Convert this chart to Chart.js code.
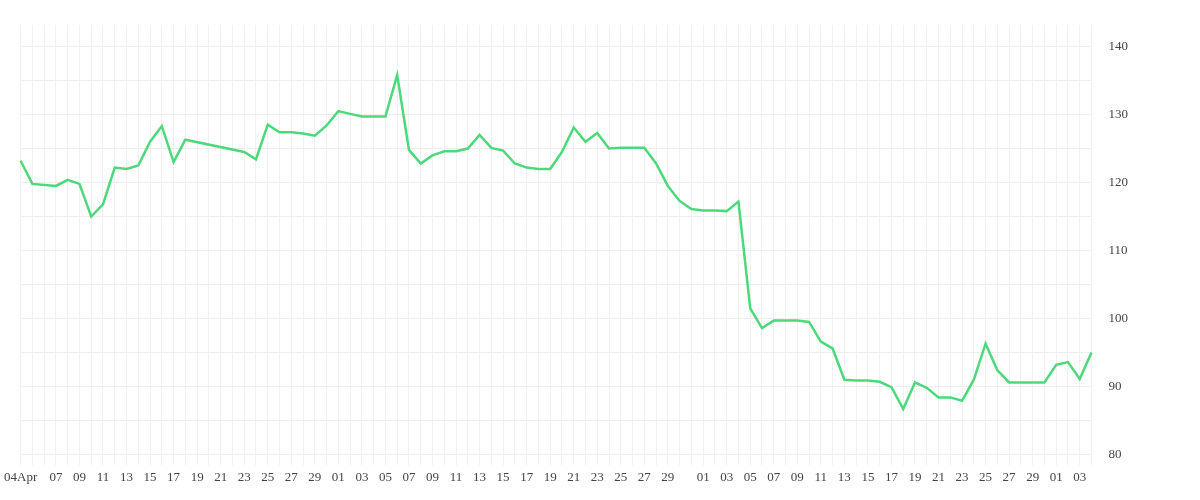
<!DOCTYPE html>
<html><head><meta charset="utf-8">
<script src="https://cdn.jsdelivr.net/npm/chart.js@4"></script>
<style>html,body{margin:0;padding:0;background:#fff}#w{width:1200px;height:500px}</style>
</head><body><div id="w"><canvas id="c"></canvas></div>
<script>
// Daily categories from 04 Apr to 04 Jul
const months = [["Apr",4,30],["May",1,31],["Jun",1,30],["Jul",1,4]];
const categories = [];
const dayNums = [];
for (const [m,s,e] of months) for (let d=s; d<=e; d++) { categories.push(d+" "+m); dayNums.push(d); }
const priceValues = [
123.2,119.8,null,119.5,120.4,119.8,115,116.8,122.2,122,122.5,126,128.3,123,126.3,null,null,null,null,124.5,123.4,128.5,127.4,127.4,127.2,126.9,128.4,
130.5,130.1,129.7,129.7,129.7,135.8,124.8,122.8,124,124.6,124.6,125,127,125.1,124.7,122.8,122.2,122,122,124.5,128.1,126,127.3,125,125.1,125.1,125.1,122.8,119.5,117.3,116.1,
115.9,115.9,115.8,117.2,101.5,98.6,99.7,99.7,99.7,99.5,96.6,95.6,91,90.9,90.9,90.7,89.9,86.7,90.6,89.8,88.4,88.4,87.9,91,96.3,92.4,90.6,90.6,90.6,90.6,
93.2,93.6,91.1,95
];
const yTickValues = [80,90,100,110,120,130,140];
const shownX = new Set();
categories.forEach((c,i)=>{
  const d = dayNums[i];
  if (i===0 || (d%2===1 && i>=3 && d!==31 && i!==categories.length-1)) shownX.add(i);
});
new Chart(document.getElementById('c'), {
  type: 'line',
  data: { labels: categories, datasets: [{ data: priceValues, borderColor: '#4cd97b', borderWidth: 2.5, pointRadius: 0, tension: 0, spanGaps: true, fill: false }] },
  options: {
    responsive: true, maintainAspectRatio: false, animation: false,
    layout: { padding: { left: 6, right: 55, top: 8, bottom: 11 } },
    plugins: { legend: { display: false }, tooltip: { enabled: false } },
    scales: {
      x: {
        offset: false,
        grid: { color: '#f1f1f1', drawTicks: false },
        border: { display: false },
        ticks: { autoSkip: false, maxRotation: 0, padding: 4, color: '#444', font: { family: 'Liberation Serif', size: 13 },
          callback: (v,i) => shownX.has(i) ? (i===0 ? '04Apr' : String(dayNums[i]).padStart(2,'0')) : '' }
      },
      y: {
        position: 'right', min: 78.4, max: 143.2,
        afterBuildTicks: ax => { const t=[]; for (let v=80; v<=140; v+=5) t.push({value:v}); ax.ticks = t; },
        grid: { color: '#eeeeee', drawTicks: false },
        border: { display: false },
        ticks: { padding: 17, color: '#444', font: { family: 'Liberation Serif', size: 13 },
          callback: v => yTickValues.includes(v) ? v : '' }
      }
    }
  }
});
</script></body></html>
